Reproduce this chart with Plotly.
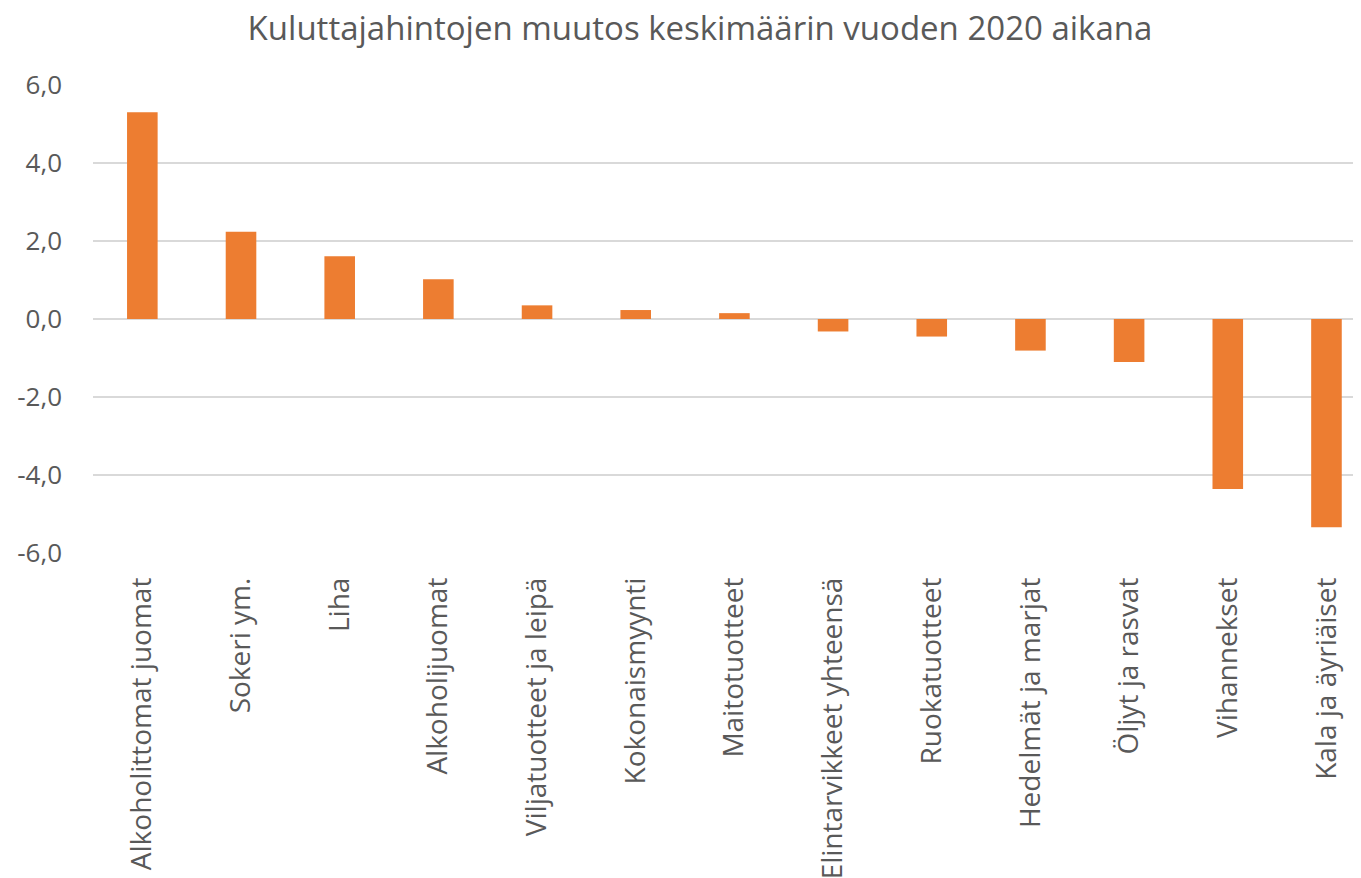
import plotly.graph_objects as go

categories = [
    "Alkoholittomat juomat", "Sokeri ym.", "Liha", "Alkoholijuomat",
    "Viljatuotteet ja leipä", "Kokonaismyynti", "Maitotuotteet",
    "Elintarvikkeet yhteensä", "Ruokatuotteet", "Hedelmät ja marjat",
    "Öljyt ja rasvat", "Vihannekset", "Kala ja äyriäiset",
]
values = [5.30, 2.24, 1.61, 1.02, 0.35, 0.23, 0.15, -0.32, -0.45, -0.81, -1.10, -4.36, -5.34]
tick_vals = [-6, -4, -2, 0, 2, 4, 6]
tick_text = ["-6,0", "-4,0", "-2,0", "0,0", "2,0", "4,0", "6,0"]
title_text = "Kuluttajahintojen muutos keskimäärin vuoden 2020 aikana"

FONT = "Open Sans, sans-serif"
GRAY = "#595959"
W, H = 1353, 870  # page body has an 8px margin

fig = go.Figure(go.Bar(
    x=list(range(len(categories))), y=values,
    width=0.31, marker=dict(color="#ED7D31", line=dict(width=0)),
))

fig.update_layout(
    width=W, height=H,
    paper_bgcolor="white", plot_bgcolor="white",
    margin=dict(l=85, r=0, t=77, b=H - 545, pad=0),
    showlegend=False,
    font=dict(family=FONT, color=GRAY),
    title=dict(text=title_text, x=692/W, xanchor="center", xref="container",
               y=1 - 20/H, yanchor="middle", yref="container",
               font=dict(size=33, color=GRAY, family=FONT)),
    xaxis=dict(
        range=[-0.5, 12.35], tickmode="array",
        tickvals=list(range(len(categories))), ticktext=categories,
        tickangle=-90, tickfont=dict(size=28, color=GRAY, family=FONT),
        showgrid=False, showline=False, zeroline=False, ticks="",
        ticklabelstandoff=18,
    ),
    yaxis=dict(
        range=[-6, 6], tickmode="array", tickvals=tick_vals, ticktext=tick_text,
        tickfont=dict(size=26, color=GRAY, family=FONT),
        showgrid=True, gridcolor="#D9D9D9", gridwidth=1.5,
        zeroline=True, zerolinecolor="#D9D9D9", zerolinewidth=1.5,
        showline=False, ticks="", ticklabelstandoff=30,
    ),
)

fig.write_html("out.html")
